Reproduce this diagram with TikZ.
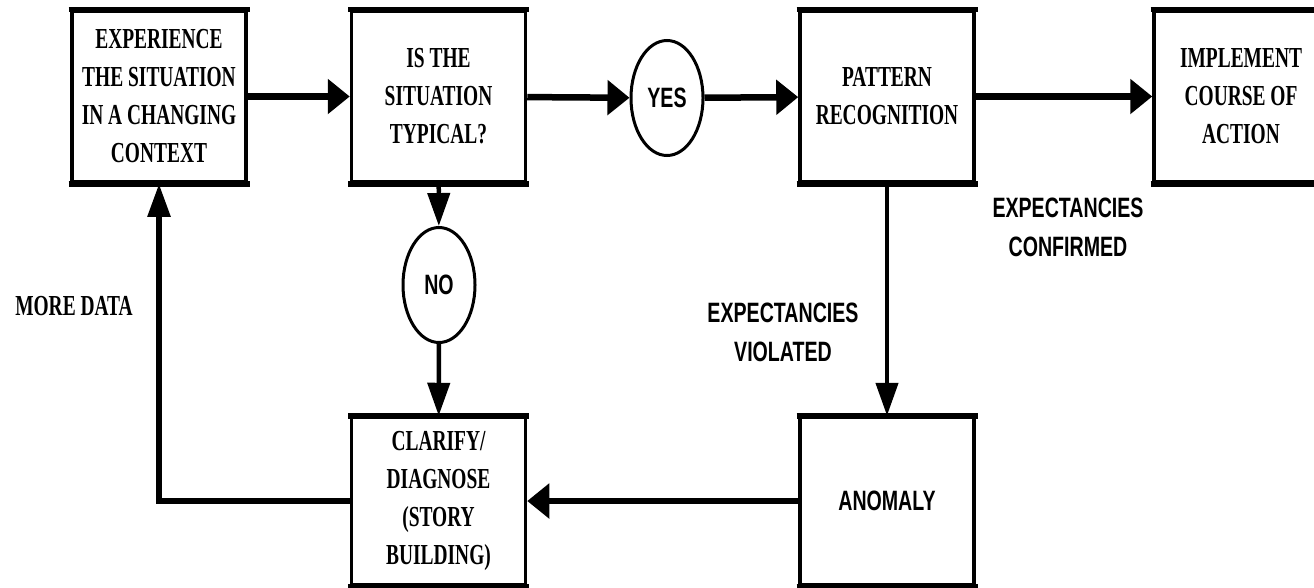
\documentclass[tikz,border=0pt]{standalone}
\usepackage{fontspec}
\newfontfamily\bserif[FakeStretch=0.67]{Liberation Serif}
\newfontfamily\bsans[FakeStretch=0.70]{Liberation Sans}
\usetikzlibrary{arrows.meta,shapes.geometric}
\begin{document}
\begin{tikzpicture}[x=1pt,y=-1pt,
  box/.style={draw, line width=3.5pt, minimum width=174pt, minimum height=171pt,
    inner sep=0pt, align=center, font=\bserif\bfseries\fontsize{29}{38}\selectfont},
  lowbox/.style={box, minimum height=167pt},
  oval/.style={draw, ellipse, line width=3pt, minimum width=72pt, minimum height=115pt,
    inner sep=0pt, font=\bsans\bfseries\fontsize{28}{30}\selectfont},
  bar/.style={line width=5.5pt, shorten <=-1.75pt, shorten >=-1.75pt},
  hline/.style={line width=6.5pt, -{Triangle[length=22pt,width=34pt]}},
  vline/.style={line width=4.5pt, -{Triangle[length=33pt,width=22pt]}},
  lbl/.style={align=center, font=\bsans\bfseries\fontsize{28}{39}\selectfont},
  slbl/.style={align=center, font=\bserif\bfseries\fontsize{29}{38}\selectfont}]
\useasboundingbox (0,0) rectangle (1314,587);
\clip (0,0) rectangle (1314,587);
\fill[white] (0,0) rectangle (1314,587);
% boxes
\node[box] (b1) at (159,96.5) {EXPERIENCE\\THE SITUATION\\IN A CHANGING\\CONTEXT};
\node[box] (b2) at (438.5,96.5) {IS THE\\SITUATION\\TYPICAL?};
\node[box] (b3) at (887,96.5) {PATTERN\\RECOGNITION};
\node[box] (b4) at (1241,96.5) {IMPLEMENT\\COURSE OF\\ACTION};
\node[lowbox] (b5) at (438.5,501) {CLARIFY/\\DIAGNOSE\\(STORY\\BUILDING)};
\node[lowbox, font=\bsans\bfseries\fontsize{28}{30}\selectfont] (b6) at (887,501) {ANOMALY};
\foreach \n in {b1,b2,b3,b4,b5,b6}{
  \draw[bar] (\n.north west) -- (\n.north east);
  \draw[bar] (\n.south west) -- (\n.south east);
}
% ovals
\node[oval] (yes) at (667,98) {YES};
\node[oval] (no) at (439,285) {NO};
% labels
\node[lbl] (conf) at (1068,227) {EXPECTANCIES\\CONFIRMED};
\node[lbl] (viol) at (783,332) {EXPECTANCIES\\VIOLATED};
\node[slbl] (more) at (74,306) {MORE DATA};
% connectors
\draw[hline] (b1) -- (b2);
\draw[hline] (b2) -- (yes);
\draw[hline] (yes) -- (b3);
\draw[hline] (b3) -- (b4);
\draw[vline] (b2) -- (no);
\draw[vline] (no) -- (b5);
\draw[vline] (b3) -- (b6);
\draw[hline] (b6) -- (b5);
\coordinate (corner) at (b5.west -| b1.south);
\draw[line width=6.5pt, line cap=rect] (b5.west) -- (corner);
\draw[vline, line width=5.5pt] (corner) -- (b1.south);
\end{tikzpicture}
\end{document}
